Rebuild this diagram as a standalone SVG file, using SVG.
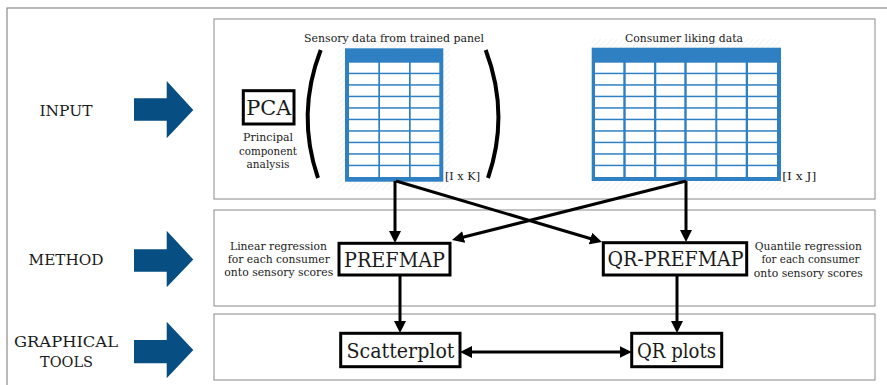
<svg xmlns="http://www.w3.org/2000/svg" width="887" height="385" viewBox="0 0 887 385">
<defs>
<style>
.frame{fill:#fff;stroke:#8a8a8a;stroke-width:1.2}
.panel{fill:#fff;stroke:#8a8a8a;stroke-width:1}
.box{fill:#fff;stroke:#000;stroke-width:3}
.t{font-family:"DejaVu Serif","Liberation Serif",serif;fill:#1a1a1a}
.big{font-size:20px}
.lab{font-size:15px}
.sm{font-size:11px}
.bar{fill:#074f82}
.con{stroke:#000;stroke-width:3;fill:none}
.paren{stroke:#000;stroke-width:4;fill:none;stroke-linecap:butt}
.tab{fill:#2f80c3}
.cell{fill:#fff}
</style>
<pattern id="hatch" width="4" height="4" patternUnits="userSpaceOnUse" patternTransform="rotate(45)">
<rect width="4" height="4" fill="#fff"/>
<line x1="0" y1="0" x2="0" y2="4" stroke="#ececec" stroke-width="1.2"/>
</pattern>
<marker id="ah" viewBox="0 0 12 12" refX="4" refY="6" markerWidth="12" markerHeight="12" markerUnits="userSpaceOnUse" orient="auto-start-reverse">
<path d="M0,0 L12,6 L0,12 z" fill="#000"/>
</marker>
</defs>
<rect x="0" y="0" width="887" height="385" fill="#fff"/>
<rect class="frame" x="7" y="8" width="900" height="400"/>

<g id="panel-input"><rect class="panel" x="214" y="19" width="661" height="180"/></g>
<g id="panel-method"><rect class="panel" x="214" y="210" width="661" height="96"/></g>
<g id="panel-graphical"><rect class="panel" x="214" y="314" width="661" height="66"/></g>

<g id="label-input">
<text class="t lab" x="66" y="116" text-anchor="middle" textLength="53" lengthAdjust="spacingAndGlyphs">INPUT</text>
<path class="bar" d="M134,98.3 H166.7 V81 L193.3,110 L166.7,138.3 V120.7 H134 Z"/>
</g>
<g id="label-method">
<text class="t lab" x="66" y="265" text-anchor="middle" textLength="75" lengthAdjust="spacingAndGlyphs">METHOD</text>
<path class="bar" d="M134,249.3 H166.7 V230.7 L193.3,259.5 L166.7,287.3 V271.7 H134 Z"/>
</g>
<g id="label-graphical">
<text class="t lab" x="66" y="346.5" text-anchor="middle" textLength="104" lengthAdjust="spacingAndGlyphs">GRAPHICAL</text>
<text class="t lab" x="66.5" y="366.5" text-anchor="middle" textLength="53" lengthAdjust="spacingAndGlyphs">TOOLS</text>
<path class="bar" d="M134,340 H166.7 V321.7 L193.3,350 L166.7,378.3 V363.3 H134 Z"/>
</g>

<g id="pca">
<rect class="box" x="243.3" y="90.7" width="50.7" height="33.3"/>
<text class="t big" x="268.7" y="115" text-anchor="middle" font-size="22" textLength="45" lengthAdjust="spacingAndGlyphs">PCA</text>
<text class="t sm" x="268" y="141" text-anchor="middle" textLength="50" lengthAdjust="spacingAndGlyphs">Principal</text>
<text class="t sm" x="268" y="154.5" text-anchor="middle" textLength="58" lengthAdjust="spacingAndGlyphs">component</text>
<text class="t sm" x="268" y="168" text-anchor="middle" textLength="43" lengthAdjust="spacingAndGlyphs">analysis</text>
</g>

<g id="sensory-data">
<rect x="338" y="39" width="112" height="151" fill="url(#hatch)"/>
<text class="t sm" x="394" y="42" text-anchor="middle" textLength="180" lengthAdjust="spacingAndGlyphs">Sensory data from trained panel</text>
<path class="paren" d="M320.7,50 Q296,114 318,178"/>
<path class="paren" d="M485.7,50 Q510,114 488,178"/>
<rect class="tab" x="345" y="48.3" width="98.3" height="133.4"/>
<g class="cell">
<rect x="349" y="62.7" width="29.3" height="10"/><rect x="380" y="62.7" width="29" height="10"/><rect x="410.7" y="62.7" width="28.6" height="10"/>
<rect x="349" y="74.2" width="29.3" height="10"/><rect x="380" y="74.2" width="29" height="10"/><rect x="410.7" y="74.2" width="28.6" height="10"/>
<rect x="349" y="85.7" width="29.3" height="10"/><rect x="380" y="85.7" width="29" height="10"/><rect x="410.7" y="85.7" width="28.6" height="10"/>
<rect x="349" y="97.2" width="29.3" height="10"/><rect x="380" y="97.2" width="29" height="10"/><rect x="410.7" y="97.2" width="28.6" height="10"/>
<rect x="349" y="108.7" width="29.3" height="10"/><rect x="380" y="108.7" width="29" height="10"/><rect x="410.7" y="108.7" width="28.6" height="10"/>
<rect x="349" y="120.2" width="29.3" height="10"/><rect x="380" y="120.2" width="29" height="10"/><rect x="410.7" y="120.2" width="28.6" height="10"/>
<rect x="349" y="131.7" width="29.3" height="10"/><rect x="380" y="131.7" width="29" height="10"/><rect x="410.7" y="131.7" width="28.6" height="10"/>
<rect x="349" y="143.2" width="29.3" height="10"/><rect x="380" y="143.2" width="29" height="10"/><rect x="410.7" y="143.2" width="28.6" height="10"/>
<rect x="349" y="154.7" width="29.3" height="10"/><rect x="380" y="154.7" width="29" height="10"/><rect x="410.7" y="154.7" width="28.6" height="10"/>
<rect x="349" y="166.2" width="29.3" height="10.8"/><rect x="380" y="166.2" width="29" height="10.8"/><rect x="410.7" y="166.2" width="28.6" height="10.8"/>
</g>
<text class="t sm" x="445" y="180" textLength="35" lengthAdjust="spacingAndGlyphs">[I x K]</text>
</g>

<g id="consumer-data">
<rect x="591.7" y="39" width="189.3" height="151" fill="url(#hatch)"/>
<text class="t sm" x="684" y="42" text-anchor="middle" textLength="118" lengthAdjust="spacingAndGlyphs">Consumer liking data</text>
<rect class="tab" x="591.7" y="47.7" width="189.3" height="133.3"/>
<g class="cell">
<rect x="595" y="62.7" width="28.3" height="10"/><rect x="625.7" y="62.7" width="28.3" height="10"/><rect x="656.3" y="62.7" width="28" height="10"/><rect x="686.7" y="62.7" width="28.6" height="10"/><rect x="717.3" y="62.7" width="28.4" height="10"/><rect x="748" y="62.7" width="29" height="10"/>
<rect x="595" y="74.2" width="28.3" height="10"/><rect x="625.7" y="74.2" width="28.3" height="10"/><rect x="656.3" y="74.2" width="28" height="10"/><rect x="686.7" y="74.2" width="28.6" height="10"/><rect x="717.3" y="74.2" width="28.4" height="10"/><rect x="748" y="74.2" width="29" height="10"/>
<rect x="595" y="85.7" width="28.3" height="10"/><rect x="625.7" y="85.7" width="28.3" height="10"/><rect x="656.3" y="85.7" width="28" height="10"/><rect x="686.7" y="85.7" width="28.6" height="10"/><rect x="717.3" y="85.7" width="28.4" height="10"/><rect x="748" y="85.7" width="29" height="10"/>
<rect x="595" y="97.2" width="28.3" height="10"/><rect x="625.7" y="97.2" width="28.3" height="10"/><rect x="656.3" y="97.2" width="28" height="10"/><rect x="686.7" y="97.2" width="28.6" height="10"/><rect x="717.3" y="97.2" width="28.4" height="10"/><rect x="748" y="97.2" width="29" height="10"/>
<rect x="595" y="108.7" width="28.3" height="10"/><rect x="625.7" y="108.7" width="28.3" height="10"/><rect x="656.3" y="108.7" width="28" height="10"/><rect x="686.7" y="108.7" width="28.6" height="10"/><rect x="717.3" y="108.7" width="28.4" height="10"/><rect x="748" y="108.7" width="29" height="10"/>
<rect x="595" y="120.2" width="28.3" height="10"/><rect x="625.7" y="120.2" width="28.3" height="10"/><rect x="656.3" y="120.2" width="28" height="10"/><rect x="686.7" y="120.2" width="28.6" height="10"/><rect x="717.3" y="120.2" width="28.4" height="10"/><rect x="748" y="120.2" width="29" height="10"/>
<rect x="595" y="131.7" width="28.3" height="10"/><rect x="625.7" y="131.7" width="28.3" height="10"/><rect x="656.3" y="131.7" width="28" height="10"/><rect x="686.7" y="131.7" width="28.6" height="10"/><rect x="717.3" y="131.7" width="28.4" height="10"/><rect x="748" y="131.7" width="29" height="10"/>
<rect x="595" y="143.2" width="28.3" height="10"/><rect x="625.7" y="143.2" width="28.3" height="10"/><rect x="656.3" y="143.2" width="28" height="10"/><rect x="686.7" y="143.2" width="28.6" height="10"/><rect x="717.3" y="143.2" width="28.4" height="10"/><rect x="748" y="143.2" width="29" height="10"/>
<rect x="595" y="154.7" width="28.3" height="10"/><rect x="625.7" y="154.7" width="28.3" height="10"/><rect x="656.3" y="154.7" width="28" height="10"/><rect x="686.7" y="154.7" width="28.6" height="10"/><rect x="717.3" y="154.7" width="28.4" height="10"/><rect x="748" y="154.7" width="29" height="10"/>
<rect x="595" y="166.2" width="28.3" height="10.8"/><rect x="625.7" y="166.2" width="28.3" height="10.8"/><rect x="656.3" y="166.2" width="28" height="10.8"/><rect x="686.7" y="166.2" width="28.6" height="10.8"/><rect x="717.3" y="166.2" width="28.4" height="10.8"/><rect x="748" y="166.2" width="29" height="10.8"/>
</g>
<text class="t sm" x="782.3" y="180" textLength="34" lengthAdjust="spacingAndGlyphs">[I x J]</text>
</g>

<g id="prefmap">
<rect class="box" x="339" y="243.3" width="111" height="31.7"/>
<text class="t big" x="394.5" y="266.7" text-anchor="middle" textLength="101" lengthAdjust="spacingAndGlyphs">PREFMAP</text>
<text class="t sm" x="278.5" y="249.5" text-anchor="middle" textLength="97" lengthAdjust="spacingAndGlyphs">Linear regression</text>
<text class="t sm" x="278.8" y="262.8" text-anchor="middle" textLength="102" lengthAdjust="spacingAndGlyphs">for each consumer</text>
<text class="t sm" x="278.8" y="276" text-anchor="middle" textLength="109" lengthAdjust="spacingAndGlyphs">onto sensory scores</text>
</g>

<g id="qr-prefmap">
<rect class="box" x="603.3" y="242.7" width="143.4" height="32.3"/>
<text class="t big" x="675.5" y="266" text-anchor="middle" textLength="136" lengthAdjust="spacingAndGlyphs">QR-PREFMAP</text>
<text class="t sm" x="808.3" y="250" text-anchor="middle" textLength="107" lengthAdjust="spacingAndGlyphs">Quantile regression</text>
<text class="t sm" x="810.5" y="263.3" text-anchor="middle" textLength="98" lengthAdjust="spacingAndGlyphs">for each consumer</text>
<text class="t sm" x="808.3" y="276.5" text-anchor="middle" textLength="109" lengthAdjust="spacingAndGlyphs">onto sensory scores</text>
</g>

<g id="scatterplot">
<rect class="box" x="340.7" y="333.3" width="119.3" height="33.4"/>
<text class="t big" x="400.5" y="358" text-anchor="middle" textLength="108" lengthAdjust="spacingAndGlyphs">Scatterplot</text>
</g>

<g id="qr-plots">
<rect class="box" x="631.7" y="333.3" width="90" height="33.4"/>
<text class="t big" x="676.5" y="357.5" text-anchor="middle" textLength="79" lengthAdjust="spacingAndGlyphs">QR plots</text>
</g>

<g id="connectors">
<line class="con" x1="395" y1="181" x2="395" y2="235" marker-end="url(#ah)"/>
<line class="con" x1="396" y1="181" x2="594.3" y2="239.7" marker-end="url(#ah)"/>
<line class="con" x1="686" y1="181" x2="686" y2="234" marker-end="url(#ah)"/>
<line class="con" x1="686" y1="181" x2="459.8" y2="238" marker-end="url(#ah)"/>
<line class="con" x1="400" y1="275" x2="400" y2="325" marker-end="url(#ah)"/>
<line class="con" x1="677" y1="275" x2="677" y2="325" marker-end="url(#ah)"/>
<line class="con" x1="468" y1="352" x2="623.7" y2="352" marker-start="url(#ah)" marker-end="url(#ah)"/>
</g>
</svg>
